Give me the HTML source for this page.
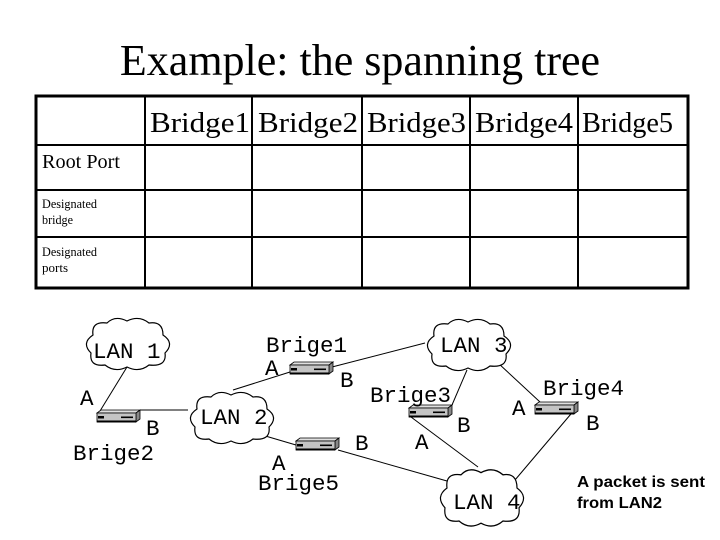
<!DOCTYPE html>
<html><head><meta charset="utf-8"><style>
html,body{margin:0;padding:0;background:#fff;}
svg{display:block}
.m{font-family:"Liberation Mono",monospace;font-size:22.5px;fill:#000}
.s{font-family:"Liberation Serif",serif;fill:#000}
</style></head><body>
<svg width="720" height="540" viewBox="0 0 720 540" xmlns="http://www.w3.org/2000/svg">
<defs>
<path id="cloud" d="M10,20 Q8,6 24,8 Q32,0 44,6 Q56,0 66,8 Q80,6 80,20 Q92,28 82,38 Q84,52 66,50 Q56,58 44,52 Q32,58 22,50 Q6,52 8,38 Q-2,28 10,20 Z" fill="#fff" stroke="#000" stroke-width="1.2"/>
<g id="br">
<polygon points="0,3 4,0 43,0 39,3" fill="#e0e0e0" stroke="#000" stroke-width="0.8"/>
<polygon points="39,3 43,0 43,9 39,12" fill="#888" stroke="#000" stroke-width="0.8"/>
<rect x="0" y="3" width="39" height="9" fill="#c4c4c4" stroke="#000" stroke-width="0.8"/>
<rect x="0" y="10.5" width="39" height="2" fill="#000"/>
<rect x="1" y="6" width="6" height="2.5" fill="#000"/>
<rect x="24" y="6.5" width="12" height="1.6" fill="#000"/>
</g>
</defs>
<text x="360" y="75" class="s" font-size="44" text-anchor="middle">Example: the spanning tree</text>
<g stroke="#000" fill="none">
<rect x="36" y="96" width="652" height="192" stroke-width="3"/>
<g stroke-width="2">
<line x1="36" y1="145" x2="688" y2="145"/>
<line x1="36" y1="190" x2="688" y2="190"/>
<line x1="36" y1="237" x2="688" y2="237"/>
<line x1="145" y1="96" x2="145" y2="288"/>
<line x1="252" y1="96" x2="252" y2="288"/>
<line x1="362" y1="96" x2="362" y2="288"/>
<line x1="470" y1="96" x2="470" y2="288"/>
<line x1="578" y1="96" x2="578" y2="288"/>
</g></g>
<g class="s" font-size="29">
<text x="150" y="132" textLength="100" lengthAdjust="spacingAndGlyphs">Bridge1</text>
<text x="258" y="132" textLength="100" lengthAdjust="spacingAndGlyphs">Bridge2</text>
<text x="367" y="132" textLength="99" lengthAdjust="spacingAndGlyphs">Bridge3</text>
<text x="475" y="132" textLength="98" lengthAdjust="spacingAndGlyphs">Bridge4</text>
<text x="582" y="132" textLength="91" lengthAdjust="spacingAndGlyphs">Bridge5</text>
</g>
<text x="42" y="168" class="s" font-size="20" textLength="78" lengthAdjust="spacingAndGlyphs">Root Port</text>
<text x="42" y="208" class="s" font-size="13" textLength="55" lengthAdjust="spacingAndGlyphs">Designated</text>
<text x="42" y="224" class="s" font-size="13" textLength="31" lengthAdjust="spacingAndGlyphs">bridge</text>
<text x="42" y="256" class="s" font-size="13" textLength="55" lengthAdjust="spacingAndGlyphs">Designated</text>
<text x="42" y="272" class="s" font-size="13" textLength="26" lengthAdjust="spacingAndGlyphs">ports</text>
<g stroke="#000" stroke-width="1">
<line x1="127" y1="367" x2="100" y2="411"/>
<line x1="140" y1="410" x2="188" y2="410"/>
<line x1="233" y1="390" x2="290" y2="372"/>
<line x1="332" y1="367" x2="425" y2="343"/>
<line x1="467" y1="370" x2="452" y2="405"/>
<line x1="498" y1="363" x2="540" y2="402"/>
<line x1="411" y1="417" x2="478" y2="467"/>
<line x1="576" y1="408" x2="515" y2="480"/>
<line x1="262" y1="435" x2="296" y2="445"/>
<line x1="338" y1="450" x2="447" y2="481"/>
</g>
<use href="#cloud" transform="translate(83,315)"/>
<use href="#cloud" transform="translate(187,389)"/>
<use href="#cloud" transform="translate(424,316)"/>
<use href="#cloud" transform="translate(437,466) scale(1,1.1)"/>
<use href="#br" transform="translate(97,410)"/>
<use href="#br" transform="translate(290,362)"/>
<use href="#br" transform="translate(296,438)"/>
<use href="#br" transform="translate(409,405)"/>
<use href="#br" transform="translate(535,402)"/>
<g class="m">
<text x="93" y="358">LAN 1</text>
<text x="80" y="405">A</text><text x="146" y="435">B</text><text x="73" y="460">Brige2</text>
<text x="266" y="352">Brige1</text><text x="265" y="375">A</text><text x="340" y="387">B</text>
<text x="200" y="424">LAN 2</text>
<text x="272" y="470">A</text><text x="258" y="490">Brige5</text><text x="355" y="450">B</text>
<text x="440" y="352">LAN 3</text>
<text x="370" y="402">Brige3</text><text x="457" y="432">B</text><text x="415" y="449">A</text>
<text x="512" y="415">A</text><text x="543" y="395">Brige4</text><text x="586" y="430">B</text>
<text x="453" y="509">LAN 4</text>
</g>
<g font-family="Liberation Sans,sans-serif" font-weight="bold" font-size="16">
<text x="577" y="487" textLength="128" lengthAdjust="spacingAndGlyphs">A packet is sent</text>
<text x="577" y="508" textLength="85" lengthAdjust="spacingAndGlyphs">from LAN2</text>
</g>
</svg>
</body></html>
